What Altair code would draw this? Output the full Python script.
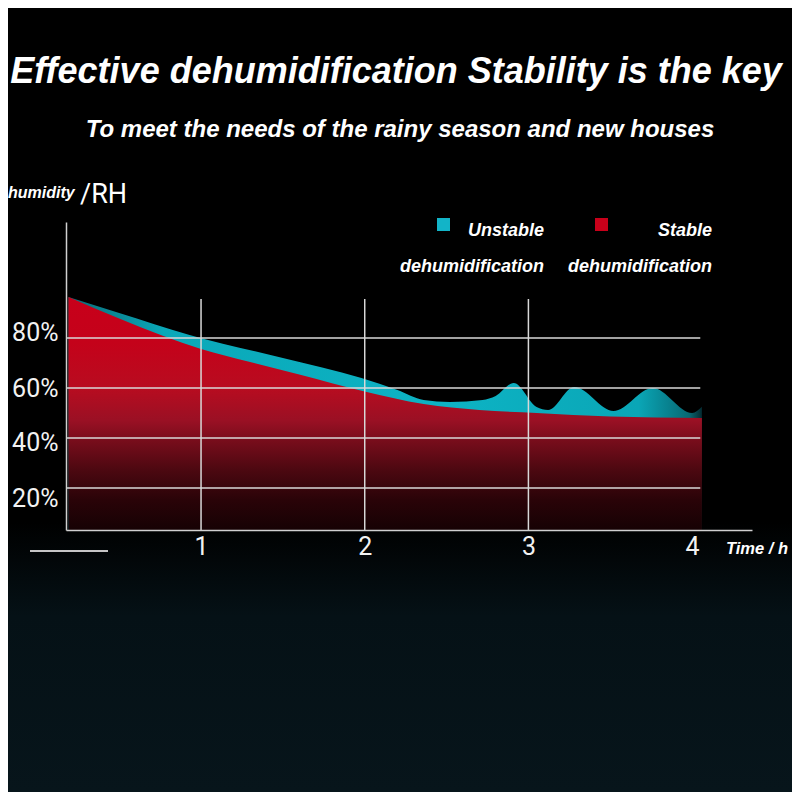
import altair as alt
import pandas as pd

# ---- data ----
stable_t = [0.19, 0.5, 0.77, 1.0, 1.3, 1.6, 2.0, 2.36, 2.7, 3.05, 3.5, 4.06]
stable_v = [96.4, 87.8, 80.8, 75.6, 70.4, 65.4, 58.6, 53.6, 51.2, 50.0, 48.6, 48.0]

unstable_t = [0.19, 0.5, 0.93, 1.5, 1.98, 2.2, 2.36, 2.52, 2.72, 2.8, 2.91, 3.05, 3.12, 3.28, 3.52, 3.76, 4.0, 4.06]
unstable_v = [96.4, 90.0, 81.2, 72.0, 64.0, 59.2, 55.2, 54.4, 55.2, 56.8, 62.0, 52.4, 51.2, 60.4, 50.8, 60.0, 50.0, 52.5]

y_ticks = [20, 40, 60, 80]
x_ticks = [1, 2, 3, 4]
vgrid = [1, 2, 3]
grid_x_end = 4.05
grid_y_top = 95.6

title_text = "Effective dehumidification Stability is the key"
subtitle_text = "To meet the needs of the rainy season and new houses"
legend_names = ["Unstable", "Stable"]
legend_sub = "dehumidification"
y_label_word = "humidity"
y_unit = "/RH"
x_title = "Time / h"

x_dom = [0.175, 4.366]
y_dom = [3.2, 126.4]

xs = alt.Scale(domain=x_dom, nice=False, zero=False)
ys = alt.Scale(domain=y_dom, nice=False, zero=False)

stable_df = pd.DataFrame({"t": stable_t, "v": stable_v, "b": y_dom[0]})
unstable_df = pd.DataFrame({"t": unstable_t, "v": unstable_v, "b": y_dom[0]})

cyan_grad = alt.Gradient(
    gradient="linear", x1=0, x2=1, y1=0, y2=0,
    stops=[
        alt.GradientStop(color="#0a6a76", offset=0),
        alt.GradientStop(color="#0aa8b8", offset=0.15),
        alt.GradientStop(color="#0db3c4", offset=0.6),
        alt.GradientStop(color="#0aa6b6", offset=0.9),
        alt.GradientStop(color="#076873", offset=0.98),
        alt.GradientStop(color="#042a30", offset=1),
    ],
)
red_grad = alt.Gradient(
    gradient="linear", x1=0, x2=0, y1=0, y2=1,
    stops=[
        alt.GradientStop(color="#c8001a", offset=0),
        alt.GradientStop(color="#c4021a", offset=0.2),
        alt.GradientStop(color="#b80c20", offset=0.39),
        alt.GradientStop(color="#9a1024", offset=0.53),
        alt.GradientStop(color="#7a0d1c", offset=0.61),
        alt.GradientStop(color="#4a0810", offset=0.75),
        alt.GradientStop(color="#2a0308", offset=0.87),
        alt.GradientStop(color="#160204", offset=1),
    ],
)

y_label_shift = {
    "condition": [
        {"test": "datum.value == 80", "value": -6},
        {"test": "datum.value == 40", "value": 4},
        {"test": "datum.value == 20", "value": 10},
    ],
    "value": 0,
}

base_x = alt.X("t:Q", scale=xs, axis=alt.Axis(
    values=x_ticks, format="d", title=None, ticks=False, grid=False,
    labelFontSize=25, labelColor="#f2f2f2", labelFont="Roboto",
    labelPadding=4, domainColor="#d0d0d0", domainWidth=1.5, zindex=1))
base_y = alt.Y("v:Q", scale=ys, axis=alt.Axis(
    values=y_ticks, labelExpr="datum.value + '%'", title=None, ticks=False, grid=False,
    labelFontSize=25, labelColor="#f2f2f2", labelFont="Roboto",
    labelPadding=8, labelOffset=y_label_shift,
    domainColor="#d0d0d0", domainWidth=1.5, zindex=1))

haze = alt.Chart(pd.DataFrame({"c": [0]})).mark_rect(
    color=alt.Gradient(gradient="linear", x1=0, x2=0, y1=0, y2=1, stops=[
        alt.GradientStop(color="#000000", offset=0),
        alt.GradientStop(color="#051116", offset=0.35),
        alt.GradientStop(color="#07151b", offset=1),
    ])).encode(x=alt.value(-58), x2=alt.value(726), y=alt.value(300), y2=alt.value(570))

cyan = alt.Chart(unstable_df).mark_area(color=cyan_grad, interpolate="monotone").encode(
    x=base_x, y=base_y, y2="b:Q")
red = alt.Chart(stable_df).mark_area(color=red_grad, interpolate="monotone").encode(
    x=alt.X("t:Q", scale=xs), y=alt.Y("v:Q", scale=ys), y2="b:Q")

hg = alt.Chart(pd.DataFrame({"v": y_ticks, "a": x_dom[0], "e": grid_x_end})).mark_rule(
    color="#d8d8d8", strokeWidth=1.5).encode(
    x=alt.X("a:Q", scale=xs), x2="e:Q", y=alt.Y("v:Q", scale=ys))
vg = alt.Chart(pd.DataFrame({"t": vgrid, "a": y_dom[0], "e": grid_y_top})).mark_rule(
    color="#d8d8d8", strokeWidth=1.5).encode(
    x=alt.X("t:Q", scale=xs), y=alt.Y("a:Q", scale=ys), y2="e:Q")


def txt(s, x, y, size, weight="bold", style="italic", align="center", font="Liberation Sans", color="white"):
    return alt.Chart(pd.DataFrame({"s": [s]})).mark_text(
        fontSize=size, fontWeight=weight, fontStyle=style, align=align, baseline="middle",
        font=font, color=color).encode(text="s:N", x=alt.value(x), y=alt.value(y))


def box(x, y, color):
    return alt.Chart(pd.DataFrame({"c": [0]})).mark_rect(color=color).encode(
        x=alt.value(x), x2=alt.value(x + 13), y=alt.value(y), y2=alt.value(y + 13))


glare = alt.Chart(pd.DataFrame({"c": [0]})).mark_rule(color="#e8e8e8", strokeWidth=2, opacity=0.85).encode(
    x=alt.value(-36), x2=alt.value(42), y=alt.value(329))

deco = [
    txt(title_text, 330, -150, 36),
    txt(subtitle_text, 334, -92, 24),
    txt(y_label_word, -58, -29, 16, align="left"),
    txt(y_unit, 14, -27, 27, weight="normal", style="normal", align="left", font="Roboto"),
    box(371, -4, "#12b4c8"),
    box(529, -4, "#c8001a"),
    txt(legend_names[0], 478, 9, 18, align="right"),
    txt(legend_sub, 478, 45, 18, align="right"),
    txt(legend_names[1], 646, 9, 18, align="right"),
    txt(legend_sub, 646, 45, 18, align="right"),
    txt(x_title, 660, 327, 16.5, align="left"),
    glare,
]

chart = alt.layer(haze, cyan, red, hg, vg, *deco).properties(
    width=686, height=308,
    padding={"left": 58, "top": 214, "right": 40, "bottom": 262},
    autosize=alt.AutoSizeParams(type="none"),
    background="#000000",
).configure_view(stroke=None)

chart.save("out.html", embed_options={"renderer": "svg", "actions": False})
